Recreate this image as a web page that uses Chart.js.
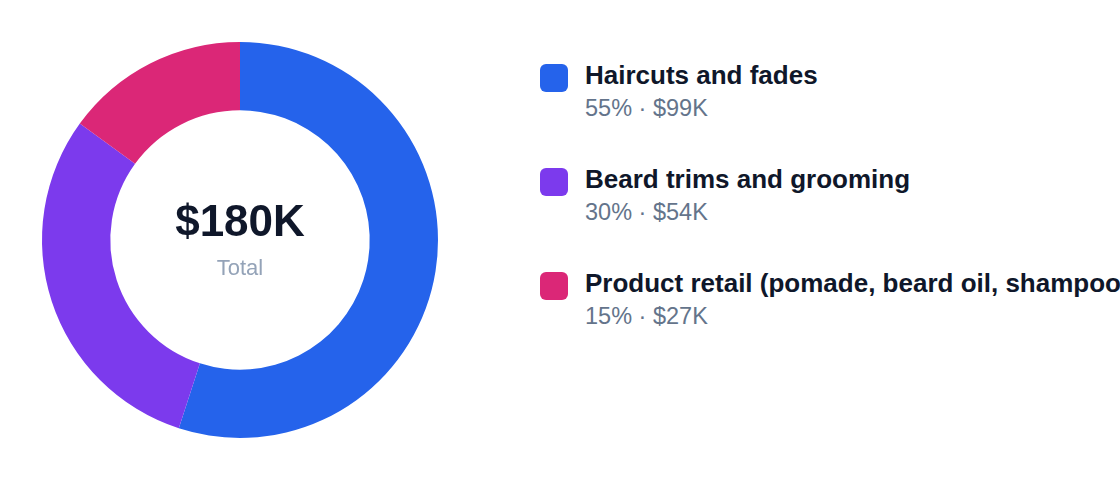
<!DOCTYPE html>
<html>
<head>
<meta charset="utf-8">
<script src="https://cdn.jsdelivr.net/npm/chart.js@4/dist/chart.umd.min.js"></script>
<style>
  html, body { margin: 0; padding: 0; background: #fff; width: 1120px; height: 480px; overflow: hidden; }
  body { position: relative; font-family: "Liberation Sans", Arial, Helvetica, sans-serif; }
  #wrap { position: absolute; left: 0; top: 0; width: 480px; height: 480px; }
  .item { position: absolute; left: 540px; white-space: nowrap; }
  .sw { position: absolute; left: 0; top: 2px; width: 28px; height: 28px; border-radius: 6px; }
  .txt { position: absolute; left: 45px; top: 0; }
  .ttl { font-size: 26px; line-height: 26px; font-weight: bold; color: #0f172a; }
  .sub { font-size: 23.5px; line-height: 24px; color: #64748b; margin-top: 8px; }
</style>
</head>
<body>
<div id="wrap"><canvas id="donut"></canvas></div>
<div id="legend"></div>
<script>
const labels = ["Haircuts and fades", "Beard trims and grooming", "Product retail (pomade, beard oil, shampoo)"];
const revenue = [99, 54, 27]; // $K
const colors = ["#2563eb", "#7c3aed", "#db2777"];

const total = revenue.reduce((a, b) => a + b, 0);

// legend on the right
const legend = document.getElementById("legend");
for (let i = 0; i < labels.length; i++) {
  const pct = Math.round(revenue[i] / total * 100);
  const it = document.createElement("div");
  it.className = "item";
  it.style.top = (62 + i * 104) + "px";
  it.innerHTML =
    '<div class="sw" style="background:' + colors[i] + '"></div>' +
    '<div class="txt"><div class="ttl">' + labels[i] + '</div>' +
    '<div class="sub">' + pct + '% \u00b7 $' + revenue[i] + 'K</div></div>';
  legend.appendChild(it);
}

// total in the hole
const centerText = {
  id: "centerText",
  afterDraw(chart) {
    const ctx = chart.ctx;
    const meta = chart.getDatasetMeta(0).data[0];
    const cx = meta.x, cy = meta.y;
    ctx.save();
    ctx.textAlign = "center";
    ctx.textBaseline = "alphabetic";
    ctx.fillStyle = "#0f172a";
    ctx.font = "bold 44px 'Liberation Sans', Arial, sans-serif";
    ctx.fillText("$" + total + "K", cx, cy - 4);
    ctx.fillStyle = "#94a3b8";
    ctx.font = "22px 'Liberation Sans', Arial, sans-serif";
    ctx.fillText("Total", cx, cy + 35);
    ctx.restore();
  }
};

new Chart(document.getElementById("donut"), {
  type: "doughnut",
  data: {
    labels: labels,
    datasets: [{
      data: revenue,
      backgroundColor: colors,
      borderWidth: 0,
    }],
  },
  options: {
    responsive: true,
    maintainAspectRatio: false,
    animation: false,
    events: [],
    cutout: "65.5%",
    layout: { padding: 42 },
    plugins: {
      legend: { display: false },
      tooltip: { enabled: false },
    },
  },
  plugins: [centerText],
});
</script>
</body>
</html>
